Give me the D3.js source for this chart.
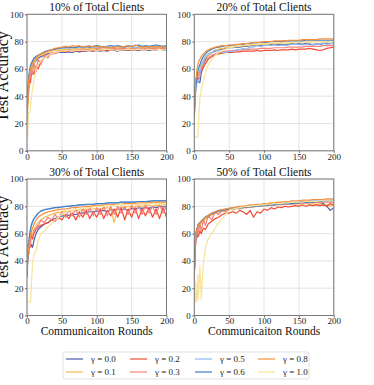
<!DOCTYPE html>
<html>
<head>
<meta charset="utf-8">
<script src="https://cdn.jsdelivr.net/npm/d3@7"></script>
<style>
  body { margin: 0; background: #fff; }
  svg { display: block; font-family: "Liberation Serif", "Times New Roman", serif; }
</style>
</head>
<body>
<svg id="chart" width="374" height="385"></svg>
<script>
var rounds = [0,1,2,3,4,5,6,8,10,13,16,20,25,30,35,40,45,50,55,60,65,70,75,80,85,90,95,100,
  105,110,115,120,125,130,135,140,145,150,155,160,165,170,175,180,185,190,195,200];

var gammas = ["0.0","0.1","0.2","0.3","0.5","0.6","0.8","1.0"];
var colors = ["#4e5bab","#f6be4f","#ef4b35","#f7827c","#8cb9f2","#3d7fc0","#f78f3a","#f8e39a"];
var titles = ["10% of Total Clients","20% of Total Clients","30% of Total Clients","50% of Total Clients"];
var xTicks = [0,50,100,150,200];
var yTicks = [0,20,40,60,80,100];

// 10% of clients
var acc10_g00 = [28,35,42,48,52,55,58,62,64,66,68,69, 70,71,71,71.5,72,72,72,72.5,72,73,72.5,73,73,73.5,73,73.5,73,73.5,73,74,73.5,73,74,73.5,74,73.5,74,73.5,74,74,73.5,74,74,74.5,74,74];
var acc10_g01 = [20,30,40,46,50,54,57,61,64,67,69,70, 71,72,73,73.5,74,74,74.5,74,74.5,75,74.5,75,74.5,75,75,74.5,75,75.5,75,74.5,75,75.5,75,75,75.5,75,75.5,75,76,75.5,75,75.5,76,75.5,75,75.5];
var acc10_g02 = [25,40,45,50,52,50,55,58,56,62,60,66, 68,70,71,72,72.5,73,72.5,73,73.5,73,73.5,73,74,73.5,73,74,73.5,74,73.5,74,74.5,73.5,74,74.5,74,73.5,74.5,74,74.5,74,75,74.5,74,74.5,75,74.5];
var acc10_g03 = [30,38,46,50,56,53,60,56,64,58,67,63, 70,68,72,71,73,73.5,73,74,73.5,74,74,74.5,74,74.5,74,75,74.5,74,75,74.5,75,74.5,75,75,74.5,75,75.5,75,74.5,75,75.5,75,75,75.5,75,75];
var acc10_g05 = [30,42,50,55,58,60,62,65,67,69,70,71, 72,73,74,74.5,75,75,75.5,75,75.5,76,75.5,76,75.5,76,76,75.5,76,76.5,76,75.5,76,76.5,76,76,76.5,76,75.5,76,76.5,76,76,76.5,76,76.5,76,76];
var acc10_g06 = [30,44,52,57,60,62,64,66,68,69,70,71, 72.5,73.5,74,74.5,75,75.5,75.5,76,75.5,76,76.5,76,76.5,76,76.5,77,76.5,76,76.5,77,76.5,77,76.5,76,77,76.5,77,77.5,76.5,77,76.5,77,77.5,77,76.5,77];
var acc10_g08 = [15,40,48,54,58,60,62,64,66,68,70,71, 72,73,74,75,75.5,76,76.5,76,77,76.5,77,76,76.5,77,76,76.5,76,76.5,76,75.5,76,76.5,76,76.5,77,76,77.5,76.5,76,76.5,76,76.5,76,76.5,76,76];
var acc10_g10 = [10,10,28,28,28,32,38,46,52,60,63,66, 68,70,71,72,72.5,73,73,73.5,73,73.5,73.5,74,73.5,74,74,73.5,74,74,74.5,74,74,73.5,74,74,74.5,74,74,74.5,74,74,74.5,74,74,74.5,74,74];

// 20% of clients
var acc20_g00 = [30,45,52,53,52,50,51,50,57,63,67,70, 72,73,74,74.5,75,75.5,75.5,76,76,76.5,76.5,77,77,77.5,77,77.5,77.5,78,77.5,78,78,77.5,78,78.5,78,78.5,78,78.5,78,77.5,78.5,78,78.5,79,78.5,79];
var acc20_g01 = [25,38,45,50,53,55,57,60,63,66,68,70, 72,73.5,74.5,75,75.5,76,76,76.5,76.5,77,77,77.5,77.5,77.5,78,78,78,78.5,78.5,78.5,79,79,79,79,79.5,79.5,79.5,79.5,79.5,80,80,80,80,80,80,80];
var acc20_g02 = [30,45,50,52,53,52,53,55,58,61,64,67, 69,70.5,71,71.5,72,72,72,72.5,72.5,73,73,73,73,73.5,73,73.5,73.5,73.5,74,73.5,74,74,74,74.5,74,74.5,74.5,74.5,75,74.5,74,73.5,74,75,75.5,76];
var acc20_g03 = [30,42,48,52,54,55,56,58,60,63,66,68, 70,71,72,72.5,73,73,73.5,73.5,74,74,74,74.5,74.5,74.5,75,75,75,75,75.5,75.5,75.5,75.5,76,76,76,76,76,76.5,76.5,76.5,76.5,76.5,77,77,77,77];
var acc20_g05 = [25,35,45,50,50,52,50,55,62,66,69,71, 72,74,73,72,72,73,72.5,74,74,75,74.5,76,76,77,76.5,77,77.5,77,78,77,77.5,77,77.5,78,78,78,77.5,78,78.5,78,78.5,78,79,78,78.5,78.5];
var acc20_g06 = [25,38,45,50,55,58,60,63,66,69,71,73, 74.5,75.5,76,76.5,77,77,77.5,77.5,78,78,78.5,78.5,79,79,79.5,79.5,79.5,80,80,80,80,80.5,80.5,80.5,80.5,80.5,80.5,81,81,81,81,81,81,81,81,81];
var acc20_g08 = [25,40,52,55,60,63,65,67,69,71,72.5,74, 75,76,76.5,77,77,77.5,77.5,78,78,78.5,78.5,79,79,79.5,79.5,80,80,80,80.5,80.5,80.5,80.5,81,81,81,81,81.5,81.5,81.5,81.5,81.5,82,82,82,82,82];
var acc20_g10 = [10,10,10,10,10,10,20,38,45,52,58,63, 67,70,72,73.5,74.5,75.5,76,76.5,77,77,77.5,77.5,78,78,78.5,78.5,78.5,79,79,79,79,79,79,79.5,79.5,79.5,79.5,79.5,80,80,80,80,80,80,80,80];

// 30% of clients
var acc30_g00 = [30,42,48,52,55,50,52,50,55,60,63,65, 67,68,70,71,72,73,73,73.5,74,74,75,75,75.5,76,76,76.5,76.5,77,76,77.5,77,78,77.5,78,77,78.5,78,79,78.5,79,78.5,79.5,79,80,79.5,80];
var acc30_g01 = [30,40,45,48,52,55,57,60,63,66,68,70, 72,73,74,75,75.5,76,76.5,76,77,76.5,77.5,77,78,77.5,78,78.5,78,78.5,79,78,68,79,79.5,79,80,79.5,80,80.5,80,80.5,81,80,81,80.5,81,81];
var acc30_g02 = [40,45,50,52,55,57,58,56,60,63,65,66, 67,68,70,69,72,70,74,71,75,70,76,72,77,71,76,72,78,71,77,73,78,72,79,70,78,72,79,71,78,73,79,72,78,71,79,72];
var acc30_g03 = [52,48,55,45,58,50,60,58,62,64,66,70, 68,72,70,74,71,76,72,77,73,78,72,78,74,79,73,79,74,80,73,80,74,80,75,80,74,81,75,80,74,81,75,80,74,81,75,80];
var acc30_g05 = [30,42,50,56,60,63,65,68,71,73,75,76.5, 77.5,78,78.5,79,79.5,79.5,80,80,80.5,80.5,81,81,81,81.5,81.5,81.5,82,82,82,82.5,82.5,82.5,83,83,83,83,83.5,83.5,83.5,83.5,84,84,84,84,84,84.5];
var acc30_g06 = [28,40,48,55,60,63,66,69,71,73,75,76.5, 77.5,78,78.5,79,79,79.5,80,80,80.5,80.5,81,81,81.5,81.5,81.5,82,82,82,82.5,82.5,82.5,82.5,83,83,83,83,83,83.5,83.5,83.5,83.5,84,84,84,84,84];
var acc30_g08 = [30,42,48,52,56,58,61,64,67,70,72,73.5, 75,76,76.5,77,77.5,78,78,78.5,79,79,79.5,79.5,80,80,80.5,80.5,80.5,81,81,81,81.5,81.5,81.5,82,82,82,82,82.5,82.5,82.5,82.5,83,83,83,83,83];
var acc30_g10 = [10,10,10,10,10,10,20,38,45,47,55,60, 62,65,67,70,72,74,75.5,76.5,77,77.5,78,78.5,79,79,79.5,80,80,80,80.5,80.5,80.5,81,81,81,81,81.5,81.5,81.5,81.5,81.5,82,82,82,82,82,82];

// 50% of clients
var acc50_g00 = [30,48,56,61,63,65,66,67.5,69,70.5,72,73, 74.5,75.5,76.5,77,77.5,78,78.5,78.5,79,79,79.5,79.5,80,80,80.5,80.5,81,81,81,81.5,81.5,81.5,82,82,82,82.5,82.5,82.5,83,83,83,83,82,80,77,79];
var acc50_g01 = [25,45,54,58,61,63,64,66,67.5,69,70.5,72, 73.5,75,76,76.5,77,77.5,78,78,78.5,79,79,79.5,79.5,80,80,80.5,80.5,81,81,81,81.5,81.5,81.5,82,82,81.5,82,82,81.5,82,81,82,80.5,81.5,80,81];
var acc50_g02 = [30,45,55,58,57,60,58,62,60,64,63,67, 69,71,72,74,75,75,76,75,77,76,74,77,72,76,75,78,77,79,78,79.5,79,80,79.5,80,80.5,80,81,80,81,80.5,81,80.5,81,80,82,81];
var acc50_g03 = [25,58,52,63,58,66,60,67,62,70,66,73, 70,76,74,77,76,78,77.5,79,78,79.5,79,80,79.5,80.5,80,81,80.5,81,81,81.5,81,82,81.5,82,82,82.5,82,82.5,82.5,83,82.5,83,83,83,83,83];
var acc50_g05 = [30,48,57,61,63.5,65,66.5,68,69.5,71,72.5,73.5, 75,76,77,77.5,78,78.5,79,79,79.5,80,80,80.5,80.5,81,81,81.5,81.5,82,82,82,82.5,82.5,83,83,83,83.5,83.5,83.5,84,84,84,84,84.5,84.5,84.5,84.5];
var acc50_g06 = [30,48,57,62,64,65.5,67,68,69,70.5,72,73, 74.5,75.5,76.5,77,77.5,78,78.5,78.5,79,79,79.5,79.5,80,80,80.5,80.5,81,81,81,81.5,81.5,82,82,82,82.5,82.5,83,83,83,83,83.5,83.5,83.5,84,84,84];
var acc50_g08 = [30,50,58,62,64,65,66,67.5,69,70.5,72,73.5, 75,76,77,77.5,78,78.5,79,79.5,80,80,80.5,81,81,81.5,81.5,82,82,82.5,82.5,83,83,83.5,83.5,84,84,84,84.5,84.5,84.5,85,85,85,85,85.5,85.5,85.5];
var acc50_g10 = [10,10,25,10,12,30,12,36,12,38,50,56, 60,64,68,71,74,77,78,78.5,79,79.5,80,80,80.5,80.5,81,81,81.5,81.5,82,82,82,82.5,82.5,83,83,83,83,83.5,83.5,83.5,83.5,84,84,84,84,84];

var panelData = [
  [acc10_g00, acc10_g01, acc10_g02, acc10_g03, acc10_g05, acc10_g06, acc10_g08, acc10_g10],
  [acc20_g00, acc20_g01, acc20_g02, acc20_g03, acc20_g05, acc20_g06, acc20_g08, acc20_g10],
  [acc30_g00, acc30_g01, acc30_g02, acc30_g03, acc30_g05, acc30_g06, acc30_g08, acc30_g10],
  [acc50_g00, acc50_g01, acc50_g02, acc50_g03, acc50_g05, acc50_g06, acc50_g08, acc50_g10]
];

var serif = "'Liberation Serif', 'Times New Roman', serif";
var svg = d3.select("#chart");
var pw = 139.5, ph = 136.5;
var origins = [[27, 14.3], [194.3, 14.3], [27, 179], [194.3, 179]];

var x = d3.scaleLinear().domain([0, 200]).range([0, pw]);
var y = d3.scaleLinear().domain([0, 100]).range([ph, 0]);

var line = d3.line()
  .x(function(d, i) { return x(rounds[i]); })
  .y(function(d) { return y(d); });

panelData.forEach(function(series, p) {
  var g = svg.append("g")
    .attr("transform", "translate(" + origins[p][0] + "," + origins[p][1] + ")");

  g.append("clipPath").attr("id", "clip" + p)
    .append("rect").attr("width", pw).attr("height", ph);

  // grid
  g.append("g").selectAll("line").data(xTicks).enter().append("line")
    .attr("x1", x).attr("x2", x).attr("y1", 0).attr("y2", ph)
    .attr("stroke", "#dcdcdc").attr("stroke-width", 0.8);
  g.append("g").selectAll("line").data(yTicks).enter().append("line")
    .attr("y1", y).attr("y2", y).attr("x1", 0).attr("x2", pw)
    .attr("stroke", "#dcdcdc").attr("stroke-width", 0.8);

  var curves = g.append("g").attr("clip-path", "url(#clip" + p + ")");
  series.forEach(function(vals, k) {
    curves.append("path")
      .datum(vals)
      .attr("d", line)
      .attr("fill", "none")
      .attr("stroke", colors[k])
      .attr("stroke-width", 1.2)
      .attr("stroke-linejoin", "round");
  });

  var xAxis = g.append("g").attr("transform", "translate(0," + ph + ")")
    .call(d3.axisBottom(x).tickValues(xTicks).tickSize(2).tickPadding(0.5));
  var yAxis = g.append("g")
    .call(d3.axisLeft(y).tickValues(yTicks).tickSize(2).tickPadding(1.5));
  [xAxis, yAxis].forEach(function(a) {
    a.attr("font-family", serif).attr("font-size", 9);
    a.select(".domain").remove();
    a.selectAll("line").attr("stroke", "#666");
    a.selectAll("text").attr("fill", "#222");
  });

  g.append("rect")
    .attr("width", pw).attr("height", ph)
    .attr("fill", "none").attr("stroke", "#7a7a7a").attr("stroke-width", 1);

  g.append("text")
    .attr("x", pw / 2).attr("y", -3)
    .attr("text-anchor", "middle")
    .attr("font-family", serif)
    .style("font-size", "11.5px").attr("fill", "#111")
    .text(titles[p]);

  if (p >= 2) {
    g.append("text")
      .attr("x", pw / 2).attr("y", ph + 19.5)
      .attr("text-anchor", "middle")
      .attr("font-family", serif)
      .style("font-size", "11.5px").attr("fill", "#111")
      .text("Communicaiton Rounds");
  }
  if (p % 2 === 0) {
    svg.append("text")
      .attr("transform", "translate(8," + (origins[p][1] + ph / 2 - 6) + ") rotate(-90)")
      .attr("text-anchor", "middle")
      .attr("font-family", serif)
      .style("font-size", "16px").attr("fill", "#111")
      .text("Test Accuracy");
  }
});

// legend (matplotlib ncol=4, filled column by column)
var legend = svg.append("g").attr("font-family", serif);
legend.append("rect")
  .attr("x", 63).attr("y", 352).attr("width", 246).attr("height", 27)
  .attr("rx", 2).attr("fill", "#fff").attr("stroke", "#dadada").attr("stroke-width", 0.8);
var colX = [66, 130, 195, 258];
var rowY = [359, 372];
gammas.forEach(function(gm, k) {
  var cx = colX[Math.floor(k / 2)], cy = rowY[k % 2];
  legend.append("line")
    .attr("x1", cx).attr("x2", cx + 17).attr("y1", cy).attr("y2", cy)
    .attr("stroke", colors[k]).attr("stroke-width", 1.2);
  legend.append("text")
    .attr("x", cx + 25).attr("y", cy).attr("dy", "0.33em")
    .style("font-size", "9px").attr("fill", "#222")
    .text("\u03b3 = " + gm);
});
</script>
</body>
</html>
